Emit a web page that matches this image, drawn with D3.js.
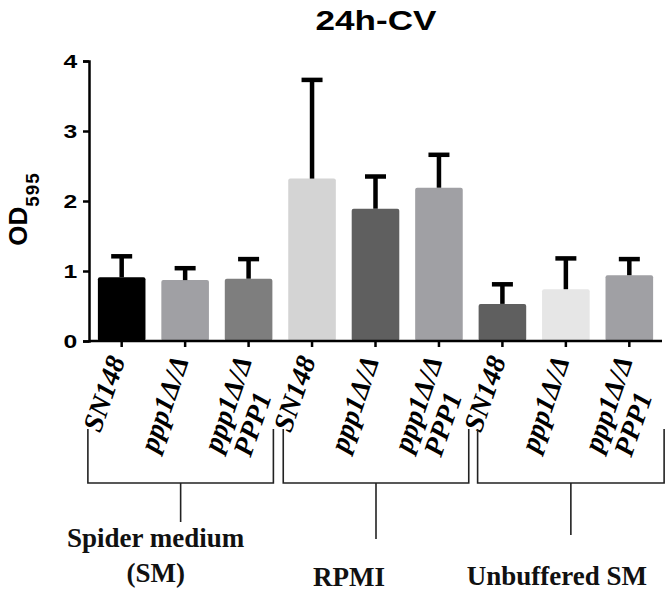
<!DOCTYPE html>
<html>
<head>
<meta charset="utf-8">
<script src="https://cdnjs.cloudflare.com/ajax/libs/d3/7.8.5/d3.min.js"></script>
<style>
  body { margin: 0; background: #fff; }
  svg { display: block; }
</style>
</head>
<body>
<div class="canvas"></div>
<script>
// data
const groups = ['Spider medium', 'RPMI', 'Unbuffered SM'];
const groupSub = ['(SM)', '', ''];
const strainLine1 = ['SN148', 'ppp1Δ/Δ', 'ppp1Δ/Δ', 'SN148', 'ppp1Δ/Δ', 'ppp1Δ/Δ', 'SN148', 'ppp1Δ/Δ', 'ppp1Δ/Δ'];
const strainLine2 = ['', '', 'PPP1', '', '', 'PPP1', '', '', 'PPP1'];
const means = [0.91, 0.87, 0.89, 2.32, 1.89, 2.19, 0.53, 0.74, 0.94];
const errors = [0.30, 0.17, 0.28, 1.41, 0.46, 0.47, 0.28, 0.44, 0.23];
const barColors = ['#000000', '#a0a0a4', '#7e7e7e', '#d4d4d4', '#5f5f5f', '#a0a0a4', '#5f5f5f', '#e6e6e6', '#a0a0a4'];
const yTicks = [0, 1, 2, 3, 4];

const width = 666, height = 592;
const plot = { left: 89, right: 662, top: 61, bottom: 341 };

const svg = d3.select('.canvas')
    .append('svg')
    .attr('width', width)
    .attr('height', height);

const x = d3.scaleBand()
    .domain(d3.range(means.length))
    .range([plot.left, plot.right])
    .paddingInner(0.25)
    .paddingOuter(0.14);

const y = d3.scaleLinear()
    .domain([0, 4])
    .range([plot.bottom, plot.top]);

// title (the prism fonts are stretched sideways in the figure)
svg.append('text')
    .attr('transform', 'translate(376, 30) scale(1.3, 1)')
    .attr('text-anchor', 'middle')
    .attr('font-family', 'Liberation Sans, Arial, sans-serif')
    .attr('font-weight', 'bold')
    .attr('font-size', 27)
    .text('24h-CV');

// bars
svg.selectAll('rect.bar')
    .data(means)
    .enter()
    .append('rect')
    .attr('class', 'bar')
    .attr('x', (d, i) => x(i))
    .attr('y', d => y(d))
    .attr('width', x.bandwidth())
    .attr('height', d => y(0) - y(d))
    .attr('rx', 2)
    .attr('fill', (d, i) => barColors[i]);

// error bars (upper only)
const capW = 21;
const err = svg.append('g').attr('stroke', '#000').attr('stroke-width', 4.5);
means.forEach((m, i) => {
    const cx = x(i) + x.bandwidth() / 2;
    err.append('line')
        .attr('x1', cx).attr('x2', cx)
        .attr('y1', y(m)).attr('y2', y(m + errors[i]));
    err.append('line')
        .attr('x1', cx - capW / 2).attr('x2', cx + capW / 2)
        .attr('y1', y(m + errors[i])).attr('y2', y(m + errors[i]));
});

// y axis
const yAxis = d3.axisLeft(y).tickValues(yTicks).tickSize(6).tickPadding(3).tickFormat(d3.format('d'));
const yAxisGroup = svg.append('g')
    .attr('transform', `translate(${plot.left}, 0)`)
    .call(yAxis);
yAxisGroup.select('.domain').attr('stroke-width', 2.5);
yAxisGroup.selectAll('.tick line').attr('stroke-width', 2.5);
yAxisGroup.selectAll('text')
    .attr('transform', 'scale(1.3, 1)')
    .attr('font-family', 'Liberation Sans, Arial, sans-serif')
    .attr('font-weight', 'bold')
    .attr('font-size', 19)
    .attr('fill', '#000');

// x axis
const xAxis = d3.axisBottom(x).tickSize(6).tickFormat('');
const xAxisGroup = svg.append('g')
    .attr('transform', `translate(0, ${plot.bottom})`)
    .call(xAxis);
xAxisGroup.select('.domain').attr('stroke-width', 2.5).attr('d', `M${plot.left},0H${plot.right}`);
xAxisGroup.selectAll('.tick line').attr('stroke-width', 2.5);

// rotated strain labels
const labelAngle = -71;
means.forEach((m, i) => {
    const cx = x(i) + x.bandwidth() / 2 + 4;
    const t = svg.append('text')
        .attr('transform', `translate(${cx}, 360) rotate(${labelAngle})`)
        .attr('text-anchor', 'end')
        .attr('font-family', 'Liberation Serif, Times New Roman, serif')
        .attr('font-weight', 'bold')
        .attr('font-style', 'italic')
        .attr('font-size', 28);
    t.append('tspan').attr('x', 0).attr('dy', 0).text(strainLine1[i]);
    if (strainLine2[i]) {
        t.append('tspan').attr('x', -28).attr('dy', 30).text(strainLine2[i]);
    }
});

// group brackets
const bracketTop = 429, bracketY = 483;
const padL = [10, 5, 1], padR = [1, 6, 11];
const stemEnd = [522, 539, 535];
const labelShift = [-25, -27, -14];
const labelBase = [547, 586, 585];
const br = svg.append('g').attr('stroke', '#222').attr('stroke-width', 1.6).attr('fill', 'none');
groups.forEach((g, k) => {
    const first = k * 3, last = k * 3 + 2;
    const left = x(first) - padL[k];
    const right = x(last) + x.bandwidth() + padR[k];
    const mid = (left + right) / 2;
    br.append('path')
        .attr('d', `M${left},${bracketTop}V${bracketY}H${right}V${bracketTop}`);
    br.append('line')
        .attr('x1', mid).attr('x2', mid)
        .attr('y1', bracketY).attr('y2', stemEnd[k]);

    const lbl = svg.append('text')
        .attr('text-anchor', 'middle')
        .attr('font-family', 'Liberation Serif, Times New Roman, serif')
        .attr('font-weight', 'bold')
        .attr('font-size', 27)
        .attr('fill', '#111');
    lbl.append('tspan').attr('x', mid + labelShift[k]).attr('y', labelBase[k]).text(g);
    if (groupSub[k]) {
        lbl.append('tspan').attr('x', mid + labelShift[k]).attr('y', labelBase[k] + 35).text(groupSub[k]);
    }
});

// y axis title OD595
const yTitle = svg.append('text')
    .attr('transform', 'translate(27, 209) rotate(-90)')
    .attr('text-anchor', 'middle')
    .attr('font-family', 'Liberation Sans, Arial, sans-serif')
    .attr('font-weight', 'bold')
    .attr('font-size', 26);
yTitle.append('tspan').text('OD');
yTitle.append('tspan').attr('font-size', 19).attr('letter-spacing', 1).attr('dy', 12).text('595');
</script>
</body>
</html>
